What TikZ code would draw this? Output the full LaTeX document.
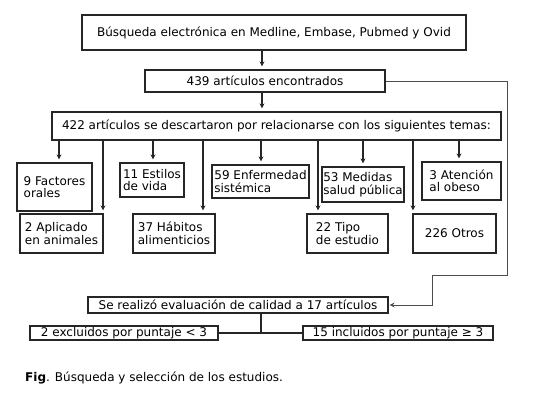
\documentclass[tikz,border=0pt]{standalone}
\usepackage{fontspec}
\setmainfont{DejaVu Sans}
\usetikzlibrary{arrows.meta}
\begin{document}
\begin{tikzpicture}[x=1pt,y=-1pt,
  bx/.style={draw=black!85, line width=1.2pt, inner sep=0pt, align=left, font=\fontsize{12}{12.5}\selectfont},
  arr/.style={draw=black!85, line width=1.1pt, -{Stealth[length=5pt,width=5pt]}, shorten >=3pt},
  ln/.style={draw=black!85, line width=1.1pt}]
\useasboundingbox[fill=white] (0,0) rectangle (538,400);
\node[bx, minimum width=384pt, minimum height=35pt] (b1) at (274,32.5) {Búsqueda electrónica en Medline, Embase, Pubmed y Ovid};
\node[bx, minimum width=240pt, minimum height=22pt] (b2) at (265,81) {439 artículos encontrados};
\node[bx, minimum width=449pt, minimum height=28pt] (b3) at (276.5,126) {422 artículos se descartaron por relacionarse con los siguientes temas:};
\node[bx, minimum width=75pt, minimum height=48pt] (r1a) at (54.5,187) {9 Factores\\orales};
\node[bx, minimum width=64pt, minimum height=34pt] (r1b) at (152,180) {11 Estilos\\de vida};
\node[bx, minimum width=97pt, minimum height=33pt] (r1c) at (260.5,181.5) {59 Enfermedad\\sistémica};
\node[bx, minimum width=82pt, minimum height=35pt] (r1d) at (363,184.5) {53 Medidas\\salud pública};
\node[bx, minimum width=79pt, minimum height=38pt] (r1e) at (461.5,181) {3 Atención\\al obeso};
\node[bx, minimum width=83pt, minimum height=39pt] (r2a) at (61.5,233.5) {2 Aplicado\\en animales};
\node[bx, minimum width=82pt, minimum height=39pt] (r2b) at (174,233.5) {37 Hábitos\\alimenticios};
\node[bx, minimum width=81pt, minimum height=39pt] (r2c) at (347.5,233.5) {22 Tipo\\de estudio};
\node[bx, minimum width=83pt, minimum height=39pt] (r2d) at (454.5,233.5) {226 Otros};
\node[bx, minimum width=300pt, minimum height=16pt] (b4) at (238,305) {Se realizó evaluación de calidad a 17 artículos};
\node[bx, minimum width=188pt, minimum height=14pt] (b5) at (124,333) {2 excluidos por puntaje < 3};
\node[bx, minimum width=190pt, minimum height=14pt] (b6) at (398,333) {15 incluidos por puntaje ≥ 3};
\node[anchor=west, inner sep=0pt, font=\fontsize{12}{14}\selectfont] (cap) at (25,378) {\textbf{Fig}. Búsqueda y selección de los estudios.};
\draw[arr] (b1.south -| 262,0) -- (b2.north -| 262,0);
\draw[arr] (b2.south -| 262,0) -- (b3.north -| 262,0);
\foreach \n/\x in {r1a/59, r1b/153, r1c/261, r1d/363, r1e/459, r2a/103, r2b/203, r2c/318, r2d/413}
  \draw[arr] (b3.south -| \x,0) -- (\n.north -| \x,0);
\coordinate (fb1) at (507,275);
\coordinate (fb2) at (432,275);
\draw[arr, line width=0.9pt, draw=black!70, shorten >=1pt] (b2.east) -| (fb1) -- (fb2) |- (b4.east);
\coordinate (split) at (261,333);
\draw[ln] (b4.south -| split) -- (split);
\draw[ln] (b5.east) -- (b6.west);
\end{tikzpicture}
\end{document}
